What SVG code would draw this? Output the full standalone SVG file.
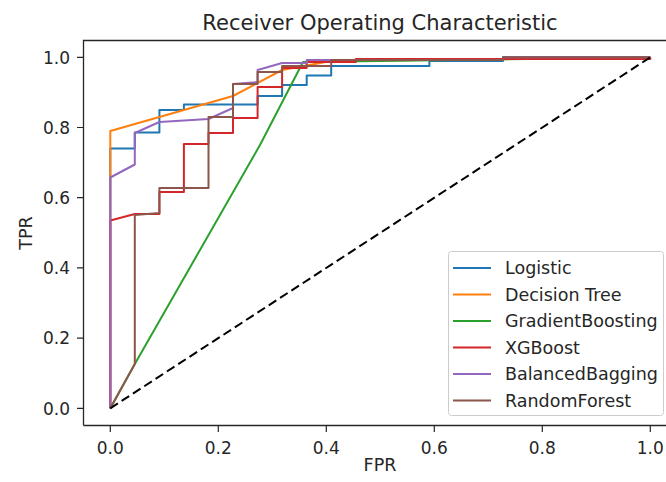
<svg xmlns="http://www.w3.org/2000/svg" width="666" height="482" viewBox="0 0 666 482">
<style>
text{font-family:"DejaVu Sans","Liberation Sans",sans-serif;fill:#262626}
.tick{font-size:17px}
.lbl{font-size:17.5px}
.ttl{font-size:21px}
.leg{font-size:17.5px}
.c{fill:none;stroke-width:2;stroke-linejoin:round}
.tk{stroke:#262626;stroke-width:1.2}
</style>
<rect width="666" height="482" fill="#fff"/>
<text class="ttl" x="380" y="30" text-anchor="middle">Receiver Operating Characteristic</text>
<g id="curves">
<path class="c" stroke="#1f77b4" d="M110.3,408.3 V148.5 H134.8 V132.5 H159.4 V110 H183.9 V104.5 H257.6 V96 H282.1 V85 H306.7 V75.5 H331.2 V66 H429.4 V61 H503 V57.3 H650.3"/>
<path class="c" stroke="#ff7f0e" d="M110.3,408.3 V131 L233,96 L282.1,70 L331.2,61 L650.3,57.3"/>
<path class="c" stroke="#2ca02c" d="M110.3,408.3 L134.8,364 L260,145 L303,62 L650.3,57.3"/>
<path class="c" stroke="#d62728" d="M110.3,408.3 V220.5 L134.8,214 H159.4 V192 H183.9 V144 H208.5 V133 H233 V118 H257.6 V87 H282.1 V68 H306.7 V62 H355.8 V59 H650.3 V57.3"/>
<path class="c" stroke="#9467bd" d="M110.3,408.3 V177.5 L134.8,164.5 V133 L159.4,122 L208.5,119 L233,108 V84 L257.6,82 V70 L282.1,63 H306.7 V60 H503 V57.3 H650.3"/>
<path class="c" stroke="#8c564b" d="M110.3,408.3 L134.8,364 V215 L159.4,213 V188 H208.5 V117 H233 V84 H257.6 V72 H282.1 V66 H331.2 V60 H503 V57.3 H650.3"/>
<path fill="none" stroke="#000" stroke-width="2" stroke-dasharray="9 4.5" d="M110.3,408.3 L650.3,57.3"/>
</g>
<g id="axes">
<path fill="none" stroke="#262626" stroke-width="1.3" d="M83.5,425.5 V40.5 H678 M83.5,425.5 H678"/>
<path class="tk" d="M110.3,426 v6 M218.3,426 v6 M326.3,426 v6 M434.3,426 v6 M542.3,426 v6 M650.3,426 v6 M83,408.3 h-6 M83,338.1 h-6 M83,267.9 h-6 M83,197.7 h-6 M83,127.5 h-6 M83,57.3 h-6"/>
<g text-anchor="middle">
<text class="tick" x="110.3" y="454">0.0</text>
<text class="tick" x="218.3" y="454">0.2</text>
<text class="tick" x="326.3" y="454">0.4</text>
<text class="tick" x="434.3" y="454">0.6</text>
<text class="tick" x="542.3" y="454">0.8</text>
<text class="tick" x="650.3" y="454">1.0</text>
</g>
<g text-anchor="end">
<text class="tick" x="70" y="414.5">0.0</text>
<text class="tick" x="70" y="344.3">0.2</text>
<text class="tick" x="70" y="274.1">0.4</text>
<text class="tick" x="70" y="203.9">0.6</text>
<text class="tick" x="70" y="133.7">0.8</text>
<text class="tick" x="70" y="63.5">1.0</text>
</g>
<text class="lbl" x="380" y="471" text-anchor="middle">FPR</text>
<text class="lbl" transform="translate(32,233) rotate(-90)" text-anchor="middle">TPR</text>
</g>
<g id="legend">
<rect x="448.5" y="251.5" width="215" height="164" rx="3" fill="#fff" fill-opacity="0.8" stroke="#cccccc" stroke-width="1"/>
<path stroke="#1f77b4" stroke-width="2" d="M453,268 H491"/>
<path stroke="#ff7f0e" stroke-width="2" d="M453,294.5 H491"/>
<path stroke="#2ca02c" stroke-width="2" d="M453,321 H491"/>
<path stroke="#d62728" stroke-width="2" d="M453,347.5 H491"/>
<path stroke="#9467bd" stroke-width="2" d="M453,374 H491"/>
<path stroke="#8c564b" stroke-width="2" d="M453,400.5 H491"/>
<text class="leg" x="505" y="274.3">Logistic</text>
<text class="leg" x="505" y="300.8">Decision Tree</text>
<text class="leg" x="505" y="327.3">GradientBoosting</text>
<text class="leg" x="505" y="353.8">XGBoost</text>
<text class="leg" x="505" y="380.3">BalancedBagging</text>
<text class="leg" x="505" y="406.8">RandomForest</text>
</g>
</svg>
